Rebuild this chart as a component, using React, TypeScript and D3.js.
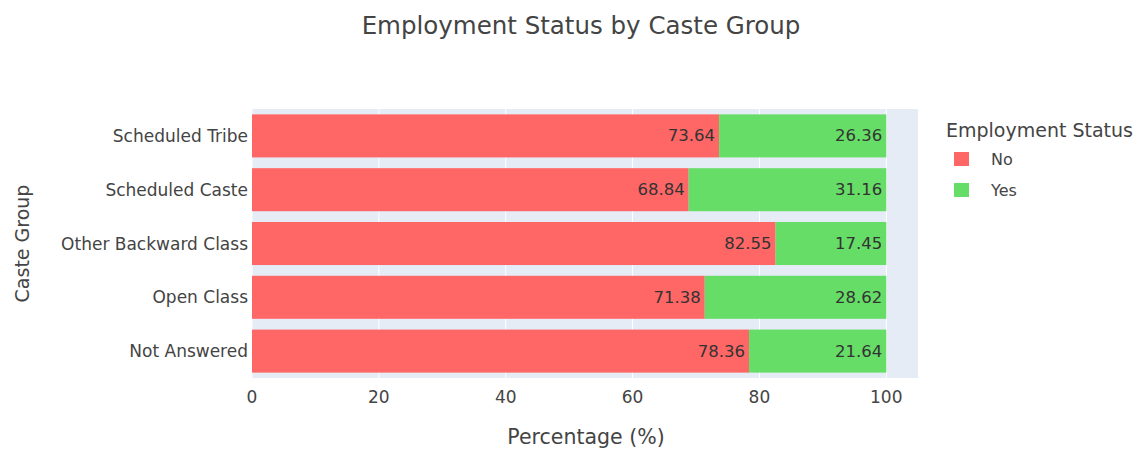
import React from "react";
import * as d3 from "d3";

const categories = ["Scheduled Tribe", "Scheduled Caste", "Other Backward Class", "Open Class", "Not Answered"];
const noValues = [73.64, 68.84, 82.55, 71.38, 78.36];
const yesValues = [26.36, 31.16, 17.45, 28.62, 21.64];
const xTicks = [0, 20, 40, 60, 80, 100];
const seriesNames = ["No", "Yes"];
const seriesColors = ["#FF6666", "#66DD66"];

const W = 1140;
const H = 449;
const FONT = "'DejaVu Sans', Verdana, sans-serif";

export default function App() {
  const left = 252, right = 918, top = 109, bottom = 378;
  const x = d3.scaleLinear().domain([0, 105]).range([left, right]);
  const y = d3.scaleBand<string>().domain(categories).range([top, bottom]).paddingInner(0.2).paddingOuter(0.1);
  const bw = y.bandwidth();

  return (
    <svg width={W} height={H} style={{ position: "absolute", left: 0, top: 0, background: "#fff" }} fontFamily={FONT}>
      <rect x={left} y={top} width={right - left} height={bottom - top} fill="#E5ECF6" />
      {xTicks.map((t) => (
        <line key={t} x1={x(t)} x2={x(t)} y1={top} y2={bottom} stroke="#fff" strokeWidth={1} />
      ))}
      {categories.map((c, i) => {
        const y0 = y(c)!;
        const xn0 = x(0), xn1 = x(noValues[i]);
        const xy1 = x(noValues[i] + yesValues[i]);
        return (
          <g key={c}>
            <rect x={xn0} y={y0} width={xn1 - xn0} height={bw} fill={seriesColors[0]} />
            <rect x={xn1} y={y0} width={xy1 - xn1} height={bw} fill={seriesColors[1]} />
            <text x={xn1 - 4} y={y0 + bw / 2} textAnchor="end" dominantBaseline="central" fontSize={16.5} fill="#333">
              {noValues[i].toFixed(2)}
            </text>
            <text x={xy1 - 4} y={y0 + bw / 2} textAnchor="end" dominantBaseline="central" fontSize={16.5} fill="#333">
              {yesValues[i].toFixed(2)}
            </text>
            <text x={left - 4} y={y0 + bw / 2} textAnchor="end" dominantBaseline="central" fontSize={17} fill="#444">
              {c}
            </text>
          </g>
        );
      })}
      {xTicks.map((t) => (
        <text key={"l" + t} x={x(t)} y={397} textAnchor="middle" dominantBaseline="central" fontSize={17} fill="#444">
          {t}
        </text>
      ))}
      <text x={586} y={437} textAnchor="middle" dominantBaseline="central" fontSize={20.5} fill="#444">
        Percentage (%)
      </text>
      <text transform={`translate(22,${(top + bottom) / 2}) rotate(-90)`} textAnchor="middle" dominantBaseline="central" fontSize={19} fill="#444">
        Caste Group
      </text>
      <text x={581} y={25} textAnchor="middle" dominantBaseline="central" fontSize={24.5} fill="#444">
        Employment Status by Caste Group
      </text>
      <text x={946} y={130} dominantBaseline="central" fontSize={19} fill="#444">
        Employment Status
      </text>
      {seriesNames.map((s, i) => (
        <g key={s}>
          <rect x={954} y={152 + i * 31} width={15} height={14} fill={seriesColors[i]} />
          <text x={991} y={159 + i * 31} dominantBaseline="central" fontSize={16} fill="#444">
            {s}
          </text>
        </g>
      ))}
    </svg>
  );
}
